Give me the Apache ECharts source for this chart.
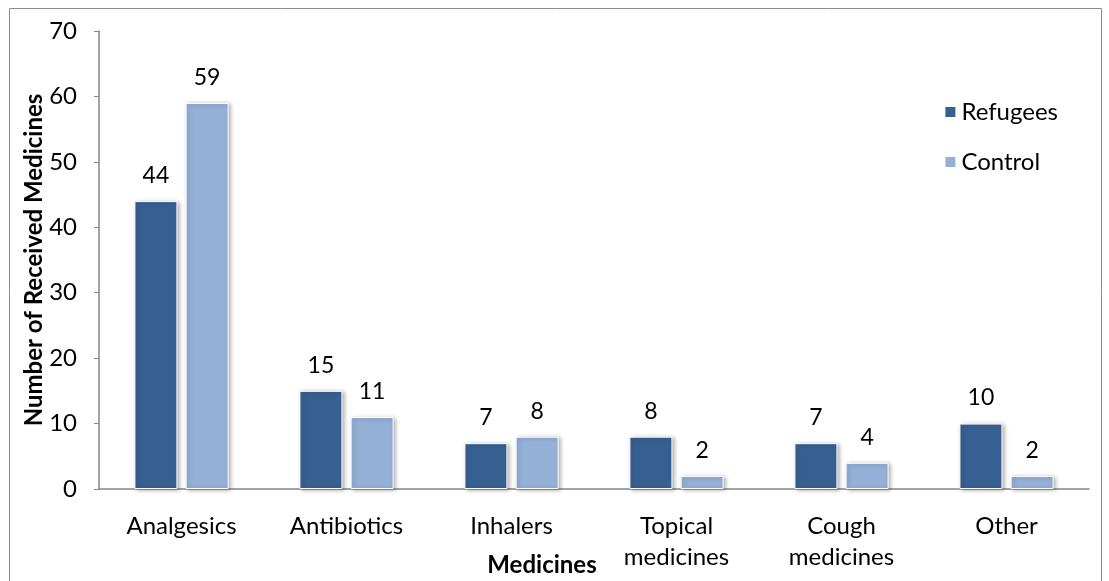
<!DOCTYPE html>
<html>
<head>
<meta charset="utf-8">
<script src="https://cdn.jsdelivr.net/npm/echarts@6/dist/echarts.min.js"></script>
<style>
  html, body { margin: 0; padding: 0; background: #fff; }
  #chart { width: 1109px; height: 581px; }
</style>
</head>
<body>
<div id="chart"></div>
<script>
// categories and values
const categories = ['Analgesics', 'Antibiotics', 'Inhalers', 'Topical\nmedicines', 'Cough\nmedicines', 'Other'];
const refugees = [44, 15, 7, 8, 7, 10];
const control = [59, 11, 8, 2, 4, 2];
const seriesNames = ['Refugees', 'Control'];

const font = 'Lato, "Liberation Sans", sans-serif';
const fs = 24;

let chart = echarts.init(document.getElementById('chart'));

// bar look shared by both series
function barStyle(color) {
    return {
        color: color,
        borderColor: '#ffffff',
        borderWidth: 1,
        shadowColor: 'rgba(0,0,0,0.3)',
        shadowBlur: 4,
        shadowOffsetX: 2,
        shadowOffsetY: 1
    };
}

let option = {
    backgroundColor: '#ffffff',
    animation: false,
    textStyle: { fontFamily: font },
    grid: { left: 99, right: 20, top: 31, bottom: 92, outerBoundsMode: 'none', containLabel: false },
    graphic: [{
        type: 'rect',
        shape: { x: 9.5, y: 8.5, width: 1092, height: 600 },
        style: { fill: 'none', stroke: '#8c8c8c', lineWidth: 1 }
    }],
    legend: {
        orient: 'vertical',
        right: 46,
        top: 95,
        itemGap: 26,
        itemWidth: 12,
        itemHeight: 12,
        icon: 'rect',
        textStyle: { fontFamily: font, fontSize: fs, color: '#000' },
        data: seriesNames
    },
    xAxis: {
        type: 'category',
        data: categories,
        name: 'Medicines',
        nameLocation: 'middle',
        nameGap: 64,
        nameMoveOverlap: false,
        nameTextStyle: { fontFamily: font, fontSize: fs, fontWeight: 'bold', color: '#000', padding: [0, 104, 0, 0] },
        axisLine: { lineStyle: { color: '#868686', width: 1.5 } },
        axisTick: { show: false },
        axisLabel: { fontFamily: font, fontSize: fs, color: '#000', margin: 22, lineHeight: 31, interval: 0 }
    },
    yAxis: {
        type: 'value',
        min: 0,
        max: 70,
        interval: 10,
        name: 'Number of Received Medicines',
        nameLocation: 'middle',
        nameGap: 53,
        nameMoveOverlap: false,
        nameTextStyle: { fontFamily: font, fontSize: fs, fontWeight: 'bold', color: '#000' },
        axisLine: { show: true, lineStyle: { color: '#868686', width: 1.5 } },
        axisTick: { show: true, length: 5, lineStyle: { color: '#868686' } },
        splitLine: { show: false },
        axisLabel: { fontFamily: font, fontSize: fs, color: '#000', margin: 22 }
    },
    series: [{
        name: seriesNames[0],
        type: 'bar',
        data: refugees,
        barWidth: 43,
        barGap: '19%',
        itemStyle: barStyle('#376092'),
        label: { show: true, position: 'top', distance: 14, fontFamily: font, fontSize: fs - 1, color: '#000' }
    }, {
        name: seriesNames[1],
        type: 'bar',
        data: control,
        barWidth: 43,
        itemStyle: barStyle('#95B0D6'),
        label: { show: true, position: 'top', distance: 14, fontFamily: font, fontSize: fs - 1, color: '#000' }
    }]
};

chart.setOption(option);
</script>
</body>
</html>
